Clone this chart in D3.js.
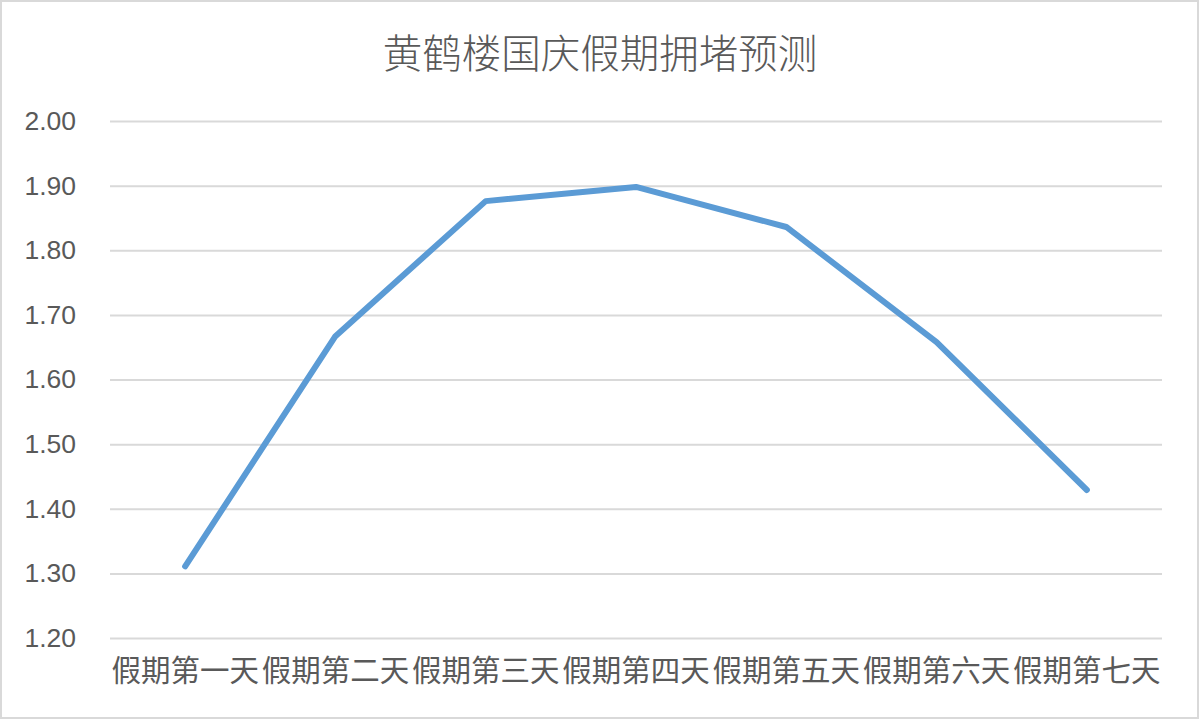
<!DOCTYPE html>
<html><head><meta charset="utf-8">
<script src="https://cdn.jsdelivr.net/npm/d3@7"></script>
<style>html,body{margin:0;padding:0;background:#fff;}svg{display:block;}</style>
</head><body>
<script>
const title = "黄鹤楼国庆假期拥堵预测";
const categories = ["假期第一天","假期第二天","假期第三天","假期第四天","假期第五天","假期第六天","假期第七天"];
const values = [1.311, 1.667, 1.876, 1.898, 1.836, 1.658, 1.429];
const yTicks = [1.2, 1.3, 1.4, 1.5, 1.6, 1.7, 1.8, 1.9, 2.0];

(function(){
const W = 1200, H = 720;
const svg = d3.select("body").append("svg").attr("width", W).attr("height", H);
svg.append("rect").attr("x",1).attr("y",1).attr("width",W-3).attr("height",H-3)
  .attr("fill","#fff").attr("stroke","#d9d9d9").attr("stroke-width",2);

const pL = 110, pR = 1162, pT = 121, pB = 638;
const x = d3.scaleBand().domain(categories).range([pL, pR]);
const y = d3.scaleLinear().domain([1.2, 2.0]).range([pB, pT]);

svg.append("text").attr("x", 600).attr("y", 68).attr("text-anchor","middle")
  .attr("font-family","'Noto Sans CJK SC', sans-serif").attr("font-size",39.5).attr("font-weight",300)
  .attr("fill","#595959").text(title);

const yAxis = d3.axisLeft(y).tickValues(yTicks).tickSize(-(pR-pL)).tickFormat(d3.format(".2f")).tickPadding(34);
const gy = svg.append("g").attr("transform",`translate(${pL},0)`).call(yAxis);
gy.select(".domain").remove();
gy.selectAll(".tick line").attr("stroke","#d9d9d9").attr("stroke-width",2);
gy.selectAll(".tick text").attr("font-family","'Liberation Sans', Arial, sans-serif").attr("font-size",26.5).attr("fill","#595959");

const xAxis = d3.axisBottom(x).tickSize(0).tickPadding(22);
const gx = svg.append("g").attr("transform",`translate(0,${pB})`).call(xAxis);
gx.select(".domain").remove();
gx.selectAll(".tick text").attr("font-family","'Noto Sans CJK SC', sans-serif").attr("font-size",29.5).attr("fill","#595959");

const line = d3.line().x((d,i)=>x(categories[i]) + x.bandwidth()/2).y(d=>y(d));
svg.append("path").datum(values).attr("d", line).attr("fill","none")
  .attr("stroke","#5b9bd5").attr("stroke-width",6).attr("stroke-linecap","round").attr("stroke-linejoin","round");
})();
</script>
</body></html>
